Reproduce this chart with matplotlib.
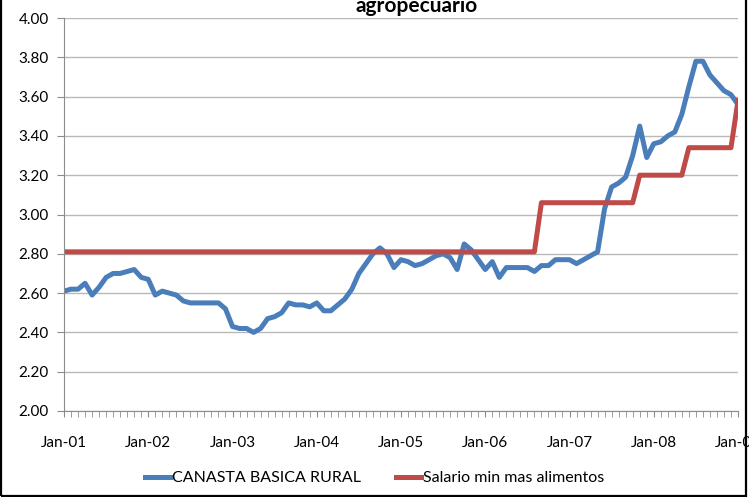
import numpy as np
import matplotlib.pyplot as plt
from matplotlib.patches import Rectangle

plt.rcParams['font.family'] = ['Lato', 'DejaVu Sans']

# monthly values, Jan-01 .. Jan-09
canasta = [2.61, 2.62, 2.62, 2.65, 2.59, 2.63, 2.68, 2.70, 2.70, 2.71, 2.72, 2.68,   # 2001
           2.67, 2.59, 2.61, 2.60, 2.59, 2.56, 2.55, 2.55, 2.55, 2.55, 2.55, 2.52,   # 2002
           2.43, 2.42, 2.42, 2.40, 2.42, 2.47, 2.48, 2.50, 2.55, 2.54, 2.54, 2.53,   # 2003
           2.55, 2.51, 2.51, 2.54, 2.57, 2.62, 2.70, 2.75, 2.80, 2.83, 2.80, 2.73,   # 2004
           2.77, 2.76, 2.74, 2.75, 2.77, 2.79, 2.80, 2.78, 2.72, 2.85, 2.82, 2.77,   # 2005
           2.72, 2.76, 2.68, 2.73, 2.73, 2.73, 2.73, 2.71, 2.74, 2.74, 2.77, 2.77,   # 2006
           2.77, 2.75, 2.77, 2.79, 2.81, 3.03, 3.14, 3.16, 3.19, 3.30, 3.45, 3.29,   # 2007
           3.36, 3.37, 3.40, 3.42, 3.51, 3.65, 3.78, 3.78, 3.71, 3.67, 3.63, 3.61,   # 2008
           3.56]                                                                     # 2009
salario = [2.81, 2.81, 2.81, 2.81, 2.81, 2.81, 2.81, 2.81, 2.81, 2.81, 2.81, 2.81,
           2.81, 2.81, 2.81, 2.81, 2.81, 2.81, 2.81, 2.81, 2.81, 2.81, 2.81, 2.81,
           2.81, 2.81, 2.81, 2.81, 2.81, 2.81, 2.81, 2.81, 2.81, 2.81, 2.81, 2.81,
           2.81, 2.81, 2.81, 2.81, 2.81, 2.81, 2.81, 2.81, 2.81, 2.81, 2.81, 2.81,
           2.81, 2.81, 2.81, 2.81, 2.81, 2.81, 2.81, 2.81, 2.81, 2.81, 2.81, 2.81,
           2.81, 2.81, 2.81, 2.81, 2.81, 2.81, 2.81, 2.81, 3.06, 3.06, 3.06, 3.06,
           3.06, 3.06, 3.06, 3.06, 3.06, 3.06, 3.06, 3.06, 3.06, 3.06, 3.20, 3.20,
           3.20, 3.20, 3.20, 3.20, 3.20, 3.34, 3.34, 3.34, 3.34, 3.34, 3.34, 3.34,
           3.58]
year_labels = ['Jan-01', 'Jan-02', 'Jan-03', 'Jan-04', 'Jan-05',
               'Jan-06', 'Jan-07', 'Jan-08', 'Jan-09']
yticks = [2.00, 2.20, 2.40, 2.60, 2.80, 3.00, 3.20, 3.40, 3.60, 3.80, 4.00]

months = np.arange(len(canasta))

fig = plt.figure(figsize=(7.49, 4.97), dpi=100)
ax = fig.add_axes([64/749, 1-411/497, 674/749, 393/497])

ax.plot(months, canasta, color='#4A7EBB', lw=3.6, label='CANASTA BASICA RURAL', solid_joinstyle='round')
ax.plot(months, salario, color='#BE4B48', lw=3.6, label='Salario min mas alimentos')

ax.set_xlim(0, len(canasta) - 1)
ax.set_ylim(2.0, 4.0)
ax.set_yticks(yticks)
ax.set_yticklabels(['%.2f' % v for v in yticks], fontsize=11)
ax.set_xticks(np.arange(0, len(canasta), 12))
ax.set_xticklabels(year_labels, fontsize=11)
ax.set_xticks(months, minor=True)
ax.grid(axis='y', color='#b8b8b8', lw=1)
ax.set_axisbelow(True)
for s in ['top', 'right']:
    ax.spines[s].set_visible(False)
for s in ['left', 'bottom']:
    ax.spines[s].set_color('#8c8c8c')
ax.tick_params(axis='x', which='both', length=4, color='#8c8c8c', pad=14)
ax.tick_params(axis='y', length=5, color='#8c8c8c', pad=6)

fig.text(417/749, 1-6/497, 'agropecuario', ha='center', va='center',
         fontsize=15, fontweight='bold')

fig.legend(loc='center', bbox_to_anchor=(0.5, 1-478/497), ncol=2, frameon=False,
           fontsize=11.5, handlelength=1.6, handletextpad=0.1, columnspacing=2.2)

fig.patches.append(Rectangle((0.002, 0.003), 0.994, 1.2, transform=fig.transFigure,
                             fill=False, ec='black', lw=1.6))

fig.savefig('out.png', dpi=100)
